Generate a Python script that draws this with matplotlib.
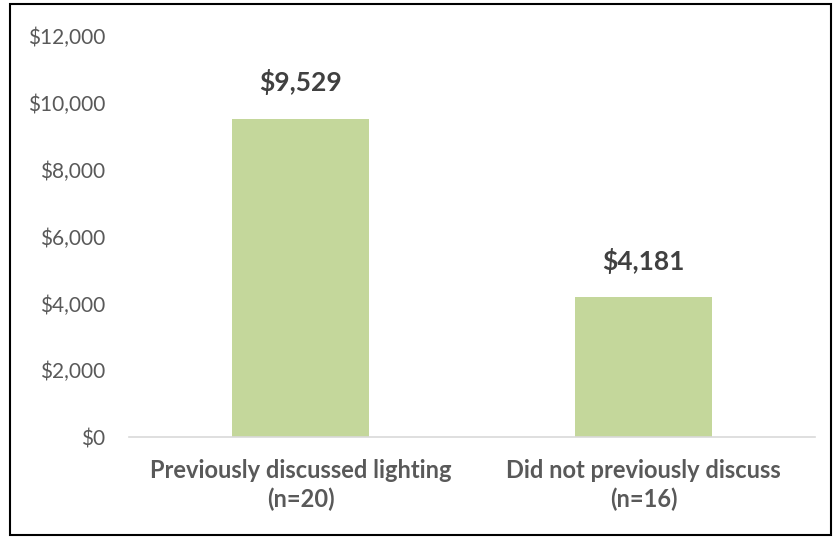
import matplotlib
matplotlib.use("Agg")
import matplotlib.pyplot as plt
from matplotlib.patches import Rectangle
from matplotlib.ticker import FuncFormatter

categories = ["Previously discussed lighting\n(n=20)", "Did not previously discuss\n(n=16)"]
values = [9529, 4181]
yticks = [0, 2000, 4000, 6000, 8000, 10000, 12000]

plt.rcParams['font.family'] = ['Lato', 'DejaVu Sans']

fig = plt.figure(figsize=(8.33, 5.37), dpi=100)
ax = fig.add_axes([129/833, 0.186, 686/833, 0.747])

x = range(len(categories))
ax.bar(x, values, width=0.4, color='#C4D79B', zorder=2)
for xi, v in zip(x, values):
    ax.text(xi, v + 700, f"${v:,}", ha='center', va='bottom', fontsize=19,
            fontweight='bold', color='#404040')

ax.set_xlim(-0.5, 1.5)
ax.set_ylim(0, 12000)
ax.set_yticks(yticks)
ax.yaxis.set_major_formatter(FuncFormatter(lambda v, p: f"${int(v):,}"))
ax.set_xticks(list(x))
ax.set_xticklabels(categories, fontsize=17, fontweight='bold', color='#595959',
                   linespacing=1.25)
ax.tick_params(axis='y', length=0, labelsize=15, labelcolor='#595959', pad=17)
ax.tick_params(axis='x', length=0, pad=16)
for s in ['top', 'right', 'left']:
    ax.spines[s].set_visible(False)
ax.spines['bottom'].set_color('#D9D9D9')
ax.spines['bottom'].set_linewidth(1.2)

fig.patches.append(Rectangle((10/833, 2/537), 821/833, 531/537, transform=fig.transFigure,
                             fill=False, edgecolor='black', linewidth=1.5))

fig.savefig("out.png", dpi=100)
